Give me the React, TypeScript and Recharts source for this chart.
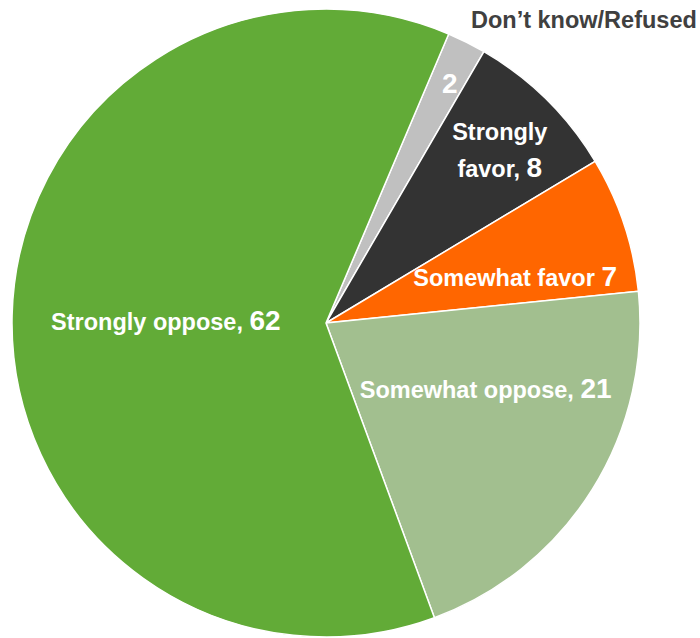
import React from "react"
import { Cell, Pie, PieChart } from "recharts"

// survey answers, clockwise from just right of 12 o'clock
const answers = ["Don\u2019t know/Refused", "Strongly favor", "Somewhat favor", "Somewhat oppose", "Strongly oppose"]
const shares = [2, 8, 7, 21, 62]
const sliceColors = ["#c0c0c0", "#333333", "#ff6600", "#a2bf8f", "#62ab37"]

const data = answers.map((name, i) => ({ name, value: shares[i] }))

const RAD = Math.PI / 180
const FONT = "'Liberation Sans', Arial, sans-serif"
const TEXT_SIZE = 23.5
const NUM_SIZE = 28

// where each label sits: fraction of the radius, and a nudge (deg, clockwise) off the slice middle
const labelRadius = [0.86, 0.78, 0.62, 0.55, 0.51]
const labelNudge = [0.7, 0.6, 4.7, -9.6, -0.7]

const SliceLabel = (props: any) => {
  const { cx, cy, midAngle, outerRadius, index, value } = props
  const a = (midAngle - labelNudge[index]) * RAD
  const r = outerRadius * labelRadius[index]
  const x = cx + r * Math.cos(a)
  const y = cy - r * Math.sin(a)

  if (index === 0) {
    return (
      <g>
        <text x={x} y={y + 10} fill="#ffffff" fontFamily={FONT} fontWeight={700} fontSize={NUM_SIZE} textAnchor="middle">
          {value}
        </text>
        <text
          x={cx + outerRadius * 1.181}
          y={cy - outerRadius * 0.94}
          fill="#404040"
          fontFamily={FONT}
          fontWeight={700}
          fontSize={TEXT_SIZE}
          textAnchor="end">
          {answers[0]}
        </text>
      </g>
    )
  }
  if (index === 1) {
    return (
      <text x={x} y={y} fill="#ffffff" fontFamily={FONT} fontWeight={700} fontSize={TEXT_SIZE} textAnchor="middle">
        <tspan x={x} dy={-10}>Strongly</tspan>
        <tspan x={x} dy={37}>favor, <tspan fontSize={NUM_SIZE}>{value}</tspan></tspan>
      </text>
    )
  }
  const sep = index === 2 ? " " : ", "
  return (
    <text x={x} y={y + 9} fill="#ffffff" fontFamily={FONT} fontWeight={700} fontSize={TEXT_SIZE} textAnchor="middle">
      {answers[index]}{sep}<tspan fontSize={NUM_SIZE}>{value}</tspan>
    </text>
  )
}

const App = () => {
  return (
    <div style={{ position: "fixed", left: 0, top: 0, width: 700, height: 638, background: "#ffffff" }}>
      <PieChart width={700} height={638} margin={{ top: 0, right: 0, bottom: 0, left: 0 }}>
        <Pie
          data={data}
          dataKey="value"
          nameKey="name"
          cx={326}
          cy={323}
          outerRadius={314}
          startAngle={67}
          endAngle={-293}
          stroke="#ffffff"
          strokeWidth={1.5}
          label={SliceLabel}
          labelLine={false}
          isAnimationActive={false}>
          {data.map((d, i) => (
            <Cell key={d.name} fill={sliceColors[i]} />
          ))}
        </Pie>
      </PieChart>
    </div>
  )
}

export default App
